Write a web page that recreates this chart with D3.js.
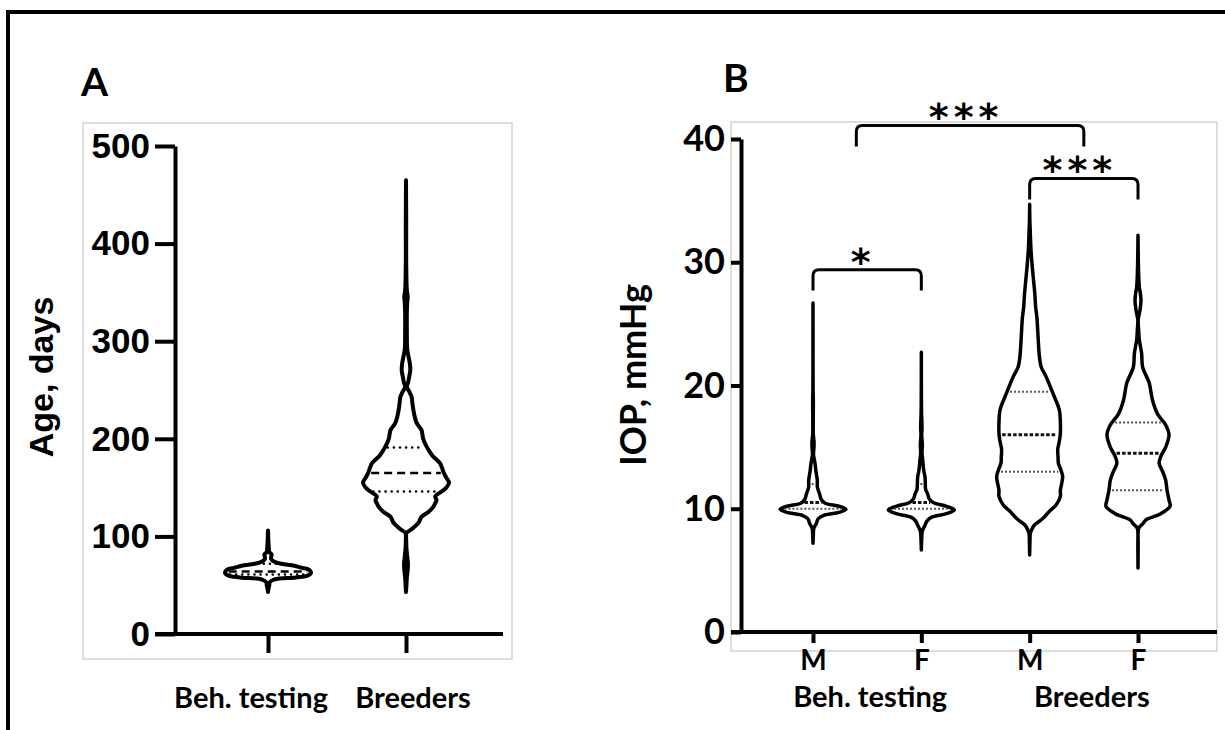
<!DOCTYPE html>
<html>
<head>
<meta charset="utf-8">
<script src="https://cdn.jsdelivr.net/npm/d3@7"></script>
<style>
  body { margin: 0; background: #fff; }
  svg { display: block; }
</style>
</head>
<body>
<svg id="chart" width="1225" height="730"></svg>
<script>
// ---- panel A: age ----
var ageGroups = ["Beh. testing", "Breeders"];
var ageTicks = [0, 100, 200, 300, 400, 500];
// [age in days, relative density]
var ageBeh = [[43,0],[46,0.01],[50,0.03],[53,0.04],[56,0.15],[58,0.65],[60,0.93],[63,1],[66,0.95],[68,0.77],
  [70,0.61],[72,0.31],[74,0.15],[77,0.07],[80,0.08],[82,0.08],[84,0.03],[88,0.02],[94,0.01],[100,0.005],[106,0]];
var ageBreed = [[43,0],[50,0.01],[58,0.02],[66,0.04],[72,0.045],[79,0.03],[88,0.01],[96,0.005],[103,0.005],
  [108,0.15],[114,0.29],[120,0.36],[125,0.52],[130,0.63],[134,0.68],[137,0.71],[141,0.68],[146,0.83],[150,0.94],
  [155,1],[160,0.94],[165,0.88],[170,0.84],[175,0.79],[183,0.61],[192,0.48],[200,0.4],[209,0.36],[216,0.25],
  [225,0.19],[236,0.15],[243,0.13],[248,0.08],[253,0.02],[258,0.05],[265,0.08],[270,0.1],[277,0.09],[282,0.07],
  [291,0.03],[310,0.02],[330,0.02],[340,0.03],[345,0.04],[352,0.02],[380,0.005],[420,0.005],[465,0]];
var ageQuartiles = [[61, 64, 72], [146, 165, 191]];

// ---- panel B: IOP ----
var iopSex = ["M", "F", "M", "F"];
var iopGroups = ["Beh. testing", "Breeders"];
var iopTicks = [0, 10, 20, 30, 40];
var iopBehM = [[7.2,0],[7.8,0.01],[8.4,0.024],[8.8,0.1],[9.2,0.16],[9.45,0.31],[9.7,0.79],[9.95,1],[10.2,0.79],
  [10.45,0.37],[10.75,0.25],[11.2,0.2],[11.5,0.16],[11.8,0.13],[12.3,0.13],[12.7,0.11],[13.1,0.085],[13.5,0.07],
  [14,0.04],[14.4,0.015],[15,0.03],[15.5,0.03],[16,0.01],[18.8,0.01],[19.5,0.003],[26.7,0]];
var iopBehF = [[6.65,0],[7.5,0.01],[8.2,0.03],[8.6,0.1],[9,0.17],[9.3,0.3],[9.6,0.76],[9.9,1],[10.2,0.76],
  [10.5,0.36],[10.8,0.24],[11.2,0.19],[11.6,0.13],[12.1,0.12],[12.6,0.11],[13,0.08],[13.4,0.06],[14,0.04],
  [14.5,0.02],[15.2,0.03],[16,0.01],[16.5,0.02],[18,0.005],[22.7,0]];
var iopBreedM = [[6.25,0],[7.5,0.01],[8,0.02],[8.3,0.06],[8.7,0.15],[9,0.3],[9.35,0.45],[9.8,0.6],[10.3,0.8],
  [11,0.93],[11.5,0.93],[12.6,1],[13.2,0.94],[13.7,0.87],[14.2,0.86],[14.8,0.85],[15.5,0.9],[16.1,0.93],[17,0.93],
  [18,0.9],[19.4,0.7],[20.7,0.5],[21.5,0.35],[22.5,0.29],[24.2,0.25],[25.5,0.22],[26.4,0.18],[27.3,0.16],
  [28.2,0.13],[29.6,0.08],[31,0.04],[32.3,0.02],[33.5,0.005],[34.7,0]];
var iopBreedF = [[5.2,0],[7,0.005],[8.3,0.01],[8.5,0.04],[8.8,0.15],[9.1,0.24],[9.6,0.69],[10.2,0.97],[10.7,0.94],
  [11.5,0.88],[12.3,0.84],[13,0.75],[13.7,0.64],[14.3,0.7],[15,0.84],[16,0.94],[16.8,0.84],[17.7,0.59],[18.8,0.44],
  [20.2,0.34],[21.5,0.14],[22.6,0.11],[23.7,0.04],[24.5,0.02],[25.3,0.005],[26.1,0.06],[26.9,0.09],[27.5,0.07],
  [28,0.04],[29,0.02],[30,0.01],[32.2,0]];
var iopQuartiles = [[10, 10.5, 12], [10, 10.5, 12], [13, 16, 19.5], [11.5, 14.5, 17]];

// significance brackets (x in violin index units, y in mmHg)
var sigFrom = [0, 2, 0.4];
var sigTo = [1, 3, 2.5];
var sigTop = [29.4, 36.8, 41.1];
var sigLabel = ["*", "***", "***"];

var svg = d3.select("#chart");
var calibri = "Lato, 'Open Sans', sans-serif";
var arial = "'Liberation Sans', Arial, sans-serif";

// outer frame
svg.append("path").attr("d", "M8,740V12H1240")
  .attr("fill", "none").attr("stroke", "#000").attr("stroke-width", 4);

// light panel boxes
svg.append("rect").attr("x", 83).attr("y", 123).attr("width", 429).attr("height", 536)
  .attr("fill", "none").attr("stroke", "#d2d2d2").attr("stroke-width", 1.5);
svg.append("rect").attr("x", 731).attr("y", 122).attr("width", 486).attr("height", 529)
  .attr("fill", "none").attr("stroke", "#d2d2d2").attr("stroke-width", 1.5);

// panel letters
svg.append("text").attr("x", 81).attr("y", 96).text("A")
  .style("font-family", calibri).style("font-weight", 700).style("font-size", "39px");
svg.append("text").attr("x", 723).attr("y", 92).text("B")
  .style("font-family", calibri).style("font-weight", 700).style("font-size", "39px");

function densAt(profile, v) {
  for (var i = 1; i < profile.length; i++) {
    if (profile[i][0] >= v) {
      var a = profile[i - 1], b = profile[i];
      return a[1] + (b[1] - a[1]) * (v - a[0]) / (b[0] - a[0]);
    }
  }
  return 0;
}

function drawViolin(g, profile, cx, y, w, sw) {
  var area = d3.area()
    .curve(d3.curveCatmullRom)
    .y(function(d) { return y(d[0]); })
    .x0(function(d) { return cx - w(d[1]); })
    .x1(function(d) { return cx + w(d[1]); });
  g.append("path").attr("d", area(profile))
    .attr("fill", "#fff").attr("stroke", "#000")
    .attr("stroke-width", sw).attr("stroke-linejoin", "round");
}

function drawQuartiles(g, profile, q, cx, y, w, styles) {
  q.forEach(function(v, i) {
    var hw = Math.max(0, w(densAt(profile, v)) - 3);
    g.append("line")
      .attr("x1", cx - hw).attr("x2", cx + hw)
      .attr("y1", y(v)).attr("y2", y(v))
      .attr("stroke", styles[i].color)
      .attr("stroke-width", styles[i].width)
      .attr("stroke-dasharray", styles[i].dash)
      .attr("stroke-linecap", styles[i].cap || "butt");
  });
}

// ================= panel A =================
var gA = svg.append("g");
var yA = d3.scaleLinear().domain([0, 500]).range([634, 146]);
var xA = d3.scalePoint().domain(ageGroups).range([268, 406]);
var wA = d3.scaleLinear().domain([0, 1]).range([0, 43]);

var yAxisA = gA.append("g").attr("transform", "translate(175,0)")
  .call(d3.axisLeft(yA).tickValues(ageTicks).tickSize(20).tickSizeOuter(0).tickPadding(5));
yAxisA.selectAll("path, line").attr("stroke", "#000").attr("stroke-width", 4);
yAxisA.selectAll("text").style("font-family", arial).style("font-weight", 700)
  .style("font-size", "35px").attr("fill", "#000");

var xAxisA = gA.append("g").attr("transform", "translate(0,634)")
  .call(d3.axisBottom(xA).tickSize(19).tickSizeOuter(0).tickFormat(""));
xAxisA.select(".domain").remove();
xAxisA.selectAll("line").attr("stroke", "#000").attr("stroke-width", 4);
gA.append("line").attr("x1", 155).attr("x2", 503).attr("y1", 634).attr("y2", 634)
  .attr("stroke", "#000").attr("stroke-width", 4);

var groupShiftA = [-17, 7];
gA.selectAll(".grpA").data(ageGroups).enter().append("text")
  .attr("x", function(d, i) { return xA(d) + groupShiftA[i]; })
  .attr("y", 708).attr("text-anchor", "middle").text(function(d) { return d; })
  .style("font-family", calibri).style("font-weight", 700).style("font-size", "29px");

gA.append("text").attr("transform", "translate(53,377) rotate(-90)")
  .attr("text-anchor", "middle").text("Age, days")
  .style("font-family", arial).style("font-weight", 700).style("font-size", "34px");

var ageStyles = [
  {color: "#000", width: 2.5, dash: "0.1,6", cap: "round"},
  {color: "#000", width: 2.5, dash: "8,5"},
  {color: "#000", width: 2.5, dash: "0.1,6", cap: "round"}
];
[ageBeh, ageBreed].forEach(function(p, i) {
  drawViolin(gA, p, xA(ageGroups[i]), yA, wA, 4);
  drawQuartiles(gA, p, ageQuartiles[i], xA(ageGroups[i]), yA, wA, ageStyles);
});

// ================= panel B =================
var gB = svg.append("g");
var yB = d3.scaleLinear().domain([0, 40]).range([632, 139]);
var xB = d3.scaleLinear().domain([0, 3]).range([813, 1138]);
var wB = d3.scaleLinear().domain([0, 1]).range([0, 33]);

var yAxisB = gB.append("g").attr("transform", "translate(741,0)")
  .call(d3.axisLeft(yB).tickValues(iopTicks).tickSize(10).tickSizeOuter(0).tickPadding(6));
yAxisB.selectAll("path, line").attr("stroke", "#000").attr("stroke-width", 4);
yAxisB.selectAll("text").style("font-family", calibri).style("font-weight", 700)
  .style("font-size", "36px").attr("fill", "#000");

var xAxisB = gB.append("g").attr("transform", "translate(0,632)")
  .call(d3.axisBottom(xB).tickValues([0, 1, 2, 3]).tickSize(11).tickSizeOuter(0).tickPadding(7)
    .tickFormat(function(d) { return iopSex[d]; }));
xAxisB.select(".domain").remove();
xAxisB.selectAll("line").attr("stroke", "#000").attr("stroke-width", 4);
xAxisB.selectAll("text").style("font-family", calibri).style("font-weight", 700)
  .style("font-size", "28px").attr("fill", "#000");
gB.append("line").attr("x1", 731).attr("x2", 1217).attr("y1", 632).attr("y2", 632)
  .attr("stroke", "#000").attr("stroke-width", 4);

gB.selectAll(".grpB").data(iopGroups).enter().append("text")
  .attr("x", function(d, i) { return (xB(2 * i) + xB(2 * i + 1)) / 2 + [3, 8][i]; })
  .attr("y", 707).attr("text-anchor", "middle").text(function(d) { return d; })
  .style("font-family", calibri).style("font-weight", 700).style("font-size", "29px");

gB.append("text").attr("transform", "translate(646,375) rotate(-90)")
  .attr("text-anchor", "middle").text("IOP, mmHg")
  .style("font-family", calibri).style("font-weight", 700).style("font-size", "36px");

var iopStyles = [
  {color: "#555", width: 2, dash: "2,2"},
  {color: "#111", width: 3, dash: "3.5,2"},
  {color: "#555", width: 2, dash: "2,2"}
];
[iopBehM, iopBehF, iopBreedM, iopBreedF].forEach(function(p, i) {
  drawViolin(gB, p, xB(i), yB, wB, 3.5);
  drawQuartiles(gB, p, iopQuartiles[i], xB(i), yB, wB, iopStyles);
});

// significance brackets
sigLabel.forEach(function(lab, i) {
  var x1 = xB(sigFrom[i]), x2 = xB(sigTo[i]);
  var yt = yB(sigTop[i]), yl = yB(sigTop[i] - 1.7), r = 6;
  gB.append("path")
    .attr("d", "M" + x1 + "," + yl + "V" + (yt + r) + "Q" + x1 + "," + yt + " " + (x1 + r) + "," + yt +
      "H" + (x2 - r) + "Q" + x2 + "," + yt + " " + x2 + "," + (yt + r) + "V" + yl)
    .attr("fill", "none").attr("stroke", "#000").attr("stroke-width", 3);
  gB.append("text").attr("x", (x1 + x2) / 2 - 4).attr("y", yt + 5)
    .attr("text-anchor", "middle").text(lab)
    .style("font-family", "'DejaVu Sans', sans-serif").style("font-weight", 700).style("font-size", "38px")
    .style("letter-spacing", "5px");
});
</script>
</body>
</html>
